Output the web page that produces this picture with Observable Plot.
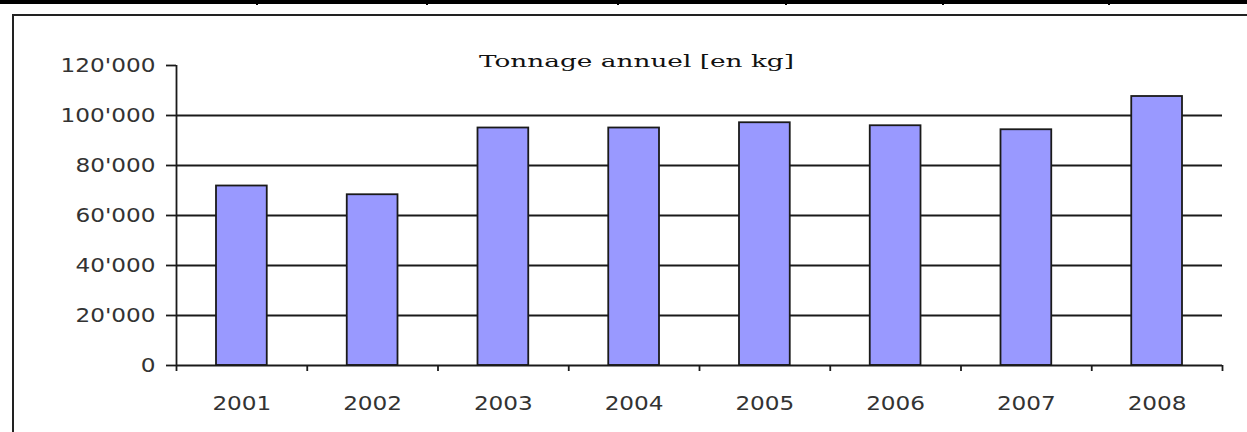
<!DOCTYPE html>
<html>
<head>
<meta charset="utf-8">
<script src="https://cdn.jsdelivr.net/npm/d3@7"></script>
<script src="https://cdn.jsdelivr.net/npm/@observablehq/plot@0.6"></script>
<style>
  html, body { margin: 0; padding: 0; background: #fff; width: 1247px; height: 432px; overflow: hidden; position: relative; }
  #chart { position: absolute; left: 0; top: 0; }
  .deco { position: absolute; background: #000; }
</style>
</head>
<body>
<div id="chart"></div>
<div class="deco" style="left:0;top:0;width:1247px;height:4px;"></div>
<div class="deco" style="left:256px;top:0;width:2px;height:5px;"></div>
<div class="deco" style="left:426px;top:0;width:2px;height:5px;"></div>
<div class="deco" style="left:617px;top:0;width:2px;height:5px;"></div>
<div class="deco" style="left:785px;top:0;width:2px;height:5px;"></div>
<div class="deco" style="left:942px;top:0;width:2px;height:5px;"></div>
<div class="deco" style="left:1108px;top:0;width:2px;height:5px;"></div>
<div class="deco" style="left:12px;top:14px;width:1235px;height:2px;background:#222;"></div>
<div class="deco" style="left:12px;top:14px;width:2px;height:418px;background:#222;"></div>
<script>
const title = "Tonnage annuel [en kg]";
const years = [2001, 2002, 2003, 2004, 2005, 2006, 2007, 2008];
const tonnage = [71800, 68300, 95000, 95000, 97100, 95900, 94300, 107600];
const yTicks = [0, 20000, 40000, 60000, 80000, 100000, 120000];
const gridTicks = [20000, 40000, 60000, 80000, 100000];

const data = years.map((y, i) => ({year: y, value: tonnage[i]}));
const xDomain = [years[0] - 0.5, years[years.length - 1] + 0.5];
const yDomain = [yTicks[0], yTicks[yTicks.length - 1]];
const boundaries = years.map(y => y - 0.5).concat([years[years.length - 1] + 0.5]);
const fmt = d => d3.format(",")(d).replace(/,/g, "'");
const ink = "#1a1a1a";
const txt = "#333";

const chart = Plot.plot({
  width: 1247,
  height: 432,
  marginLeft: 176,
  marginRight: 25,
  marginTop: 65,
  marginBottom: 67,
  style: {background: "transparent", fontFamily: "DejaVu Sans", fontSize: "19px", color: txt},
  x: {domain: xDomain, axis: null, label: null},
  y: {domain: yDomain, axis: null, label: null},
  marks: [
    Plot.ruleY(gridTicks, {stroke: ink, strokeWidth: 1.8}),
    Plot.rectY(data, {x1: d => d.year - 0.5, x2: d => d.year + 0.5, y1: 0, y2: "value",
      insetLeft: 40, insetRight: 40, fill: "#9999ff", stroke: ink, strokeWidth: 1.8}),
    Plot.ruleY([yDomain[0]], {stroke: ink, strokeWidth: 1.8}),
    Plot.ruleX([xDomain[0]], {y1: yDomain[0], y2: yDomain[1], stroke: ink, strokeWidth: 1.8}),
    Plot.axisY({ticks: yTicks, tickFormat: fmt, tickSize: 10, tickPadding: 11, label: null, stroke: ink, strokeWidth: 1.8, fill: txt, fontSize: 19}),
    Plot.axisX({ticks: boundaries, tickFormat: () => "", tickSize: 6, label: null, stroke: ink, strokeWidth: 1.8}),
    Plot.axisX({ticks: years, tickFormat: d => String(d), tickSize: 0, tickPadding: 31, label: null, fill: txt, fontSize: 19}),
    Plot.text([title], {frameAnchor: "top-left", dx: 636 - 176, dy: 1, lineAnchor: "bottom", textAnchor: "middle",
      fontFamily: "DejaVu Serif", fontSize: 17, fill: "#111", className: "chart-title"})
  ]
});
document.getElementById("chart").appendChild(chart);

// Stretch glyphs horizontally to match the wide typeface of the original
d3.select(chart).selectAll("g[aria-label='y-axis tick label'] text, g[aria-label='x-axis tick label'] text").each(function() {
  const w = this.getComputedTextLength();
  if (w > 0) {
    this.setAttribute("textLength", (w * 1.22).toFixed(1));
    this.setAttribute("lengthAdjust", "spacingAndGlyphs");
  }
});
d3.select(chart).selectAll(".chart-title text").each(function() {
  this.setAttribute("textLength", 315);
  this.setAttribute("lengthAdjust", "spacingAndGlyphs");
});
</script>
</body>
</html>
